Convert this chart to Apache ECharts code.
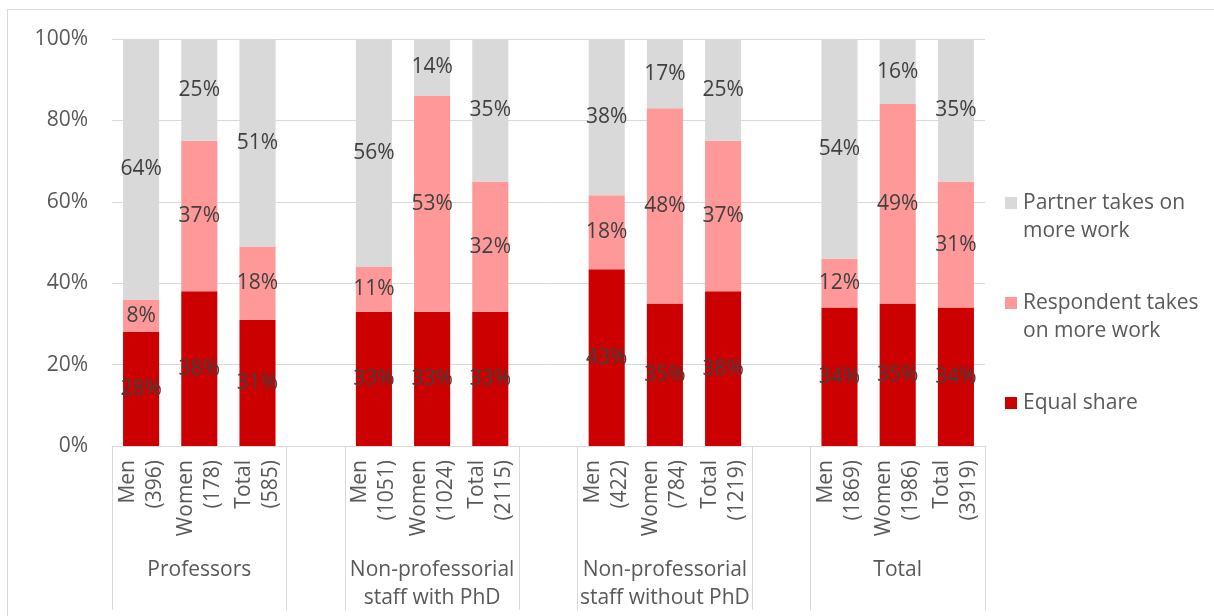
<!DOCTYPE html>
<html>
<head>
<meta charset="utf-8">
<script src="https://cdn.jsdelivr.net/npm/echarts@6/dist/echarts.min.js"></script>
<style>
  html, body { margin: 0; padding: 0; background: #fff; overflow: hidden; }
  #frame { position: absolute; left: 7px; top: 9px; width: 1400px; height: 800px; border: 1px solid #D9D9D9; }
  #chart { position: absolute; left: 0; top: 0; width: 1214px; height: 616px; }
</style>
</head>
<body>
<div id="frame"></div>
<div id="chart"></div>
<script>
// Bar categories: three per staff group, with an empty spacer slot between groups
const categories = [
  'Men\n(396)', 'Women\n(178)', 'Total\n(585)', '',
  'Men\n(1051)', 'Women\n(1024)', 'Total\n(2115)', '',
  'Men\n(422)', 'Women\n(784)', 'Total\n(1219)', '',
  'Men\n(1869)', 'Women\n(1986)', 'Total\n(3919)'
];
// Group names, placed under the middle bar of each group
const groupLabels = [
  '', 'Professors', '', '',
  '', 'Non-professorial\nstaff with PhD', '', '',
  '', 'Non-professorial\nstaff without PhD', '', '',
  '', 'Total', ''
];
// Shares in percent
const equalShare = [28, 38, 31, null, 33, 33, 33, null, 43.4, 35, 38, null, 34, 35, 34];
const respondentMore = [8, 37, 18, null, 11, 53, 32, null, 18.2, 48, 37, null, 12, 49, 31];
const partnerMore = [64, 25, 51, null, 56, 14, 35, null, 38.4, 17, 25, null, 54, 16, 35];

const seriesNames = ['Equal share', 'Respondent takes on more work', 'Partner takes on more work'];
const legendLines = {
  'Partner takes on more work': ['Partner takes on', 'more work'],
  'Respondent takes on more work': ['Respondent takes', 'on more work'],
  'Equal share': ['Equal share']
};
const colors = ['#CC0000', '#FF9999', '#D9D9D9'];
const boundaryTicks = [0, 3, 4, 7, 8, 11, 12];

const FONT = '"Open Sans", "Noto Sans", sans-serif';
const TXT = '#595959';

const chart = echarts.init(document.getElementById('chart'));

const squareKey = { 'Equal share': 'sq0', 'Respondent takes on more work': 'sq1', 'Partner takes on more work': 'sq2' };

function barSeries(name, data, color) {
  return {
    name: name,
    type: 'bar',
    stack: 'share',
    data: data,
    barWidth: '62%',
    itemStyle: { color: color },
    label: {
      show: true,
      position: 'inside',
      fontFamily: FONT,
      fontSize: 21,
      color: '#404040',
      formatter: p => (p.value == null ? '' : Math.round(p.value) + '%')
    },
    emphasis: { disabled: true }
  };
}

chart.setOption({
  animation: false,
  textStyle: { fontFamily: FONT },
  grid: { left: 112, right: 229, top: 39, bottom: 170, containLabel: false },
  legend: {
    orient: 'vertical',
    left: 995,
    top: 184,
    itemGap: 44,
    icon: 'none',
    itemWidth: 0,
    itemHeight: 0,
    selectedMode: false,
    data: ['Partner takes on more work', 'Respondent takes on more work', 'Equal share'],
    formatter: function (name) {
      const lines = legendLines[name];
      const k = squareKey[name];
      let s = '{' + k + '| }{gap| }{t|' + lines[0] + '}';
      for (let i = 1; i < lines.length; i++) {
        s += '\n{pad| }{t|' + lines[i] + '}';
      }
      return s;
    },
    textStyle: {
      fontFamily: FONT,
      fontSize: 21,
      color: TXT,
      lineHeight: 28,
      rich: {
        t: { fontFamily: FONT, fontSize: 21, color: TXT, lineHeight: 28 },
        sq0: { width: 12, height: 12, backgroundColor: colors[0] },
        sq1: { width: 12, height: 12, backgroundColor: colors[1] },
        sq2: { width: 12, height: 12, backgroundColor: colors[2] },
        gap: { width: 6 },
        pad: { width: 18 }
      }
    }
  },
  xAxis: [
    {
      type: 'category',
      data: categories,
      position: 'bottom',
      axisLine: { show: true, lineStyle: { color: '#D9D9D9', width: 1 } },
      axisTick: {
        show: true,
        length: 164,
        interval: i => boundaryTicks.includes(i),
        lineStyle: { color: '#D9D9D9', width: 1 }
      },
      axisLabel: {
        interval: 0,
        rotate: 90,
        margin: 14,
        fontFamily: FONT,
        fontSize: 21,
        lineHeight: 27,
        color: TXT
      }
    },
    {
      type: 'category',
      data: groupLabels,
      position: 'bottom',
      axisLine: { show: false },
      axisTick: { show: false },
      axisLabel: {
        interval: 0,
        margin: 110,
        fontFamily: FONT,
        fontSize: 21,
        lineHeight: 28,
        color: TXT,
        align: 'center',
        verticalAlign: 'top'
      }
    }
  ],
  yAxis: {
    type: 'value',
    min: 0,
    max: 100,
    interval: 20,
    axisLine: { show: false },
    axisTick: { show: false },
    splitLine: { lineStyle: { color: '#D9D9D9', width: 1 } },
    axisLabel: {
      margin: 24,
      formatter: '{value}%',
      fontFamily: FONT,
      fontSize: 21,
      color: TXT
    }
  },
  series: [
    barSeries(seriesNames[0], equalShare, colors[0]),
    barSeries(seriesNames[1], respondentMore, colors[1]),
    barSeries(seriesNames[2], partnerMore, colors[2])
  ]
});
</script>
</body>
</html>
